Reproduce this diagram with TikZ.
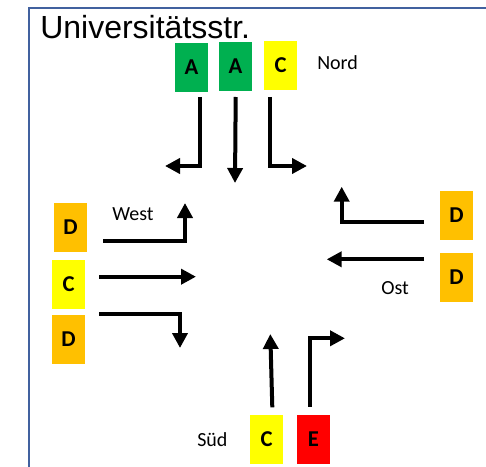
\documentclass[tikz,border=0pt]{standalone}
\usepackage{fontspec}
\setmainfont{Carlito}
\newfontfamily\arialfont{Liberation Sans}
\usetikzlibrary{arrows.meta}
\definecolor{lvgreen}{HTML}{00B050}
\definecolor{lvyellow}{HTML}{FFFF00}
\definecolor{lvorange}{HTML}{FFC000}
\definecolor{lvred}{HTML}{FF0000}
\definecolor{framecol}{HTML}{41619F}
\begin{document}
\begin{tikzpicture}[x=0.75pt,y=-0.75pt,
  lvbox/.style={minimum width=24.75pt,minimum height=36.75pt,inner sep=0pt,
    font=\fontsize{17}{17}\selectfont\bfseries},
  lbl/.style={font=\fontsize{15}{15}\selectfont,inner sep=0pt,anchor=base west},
  ar/.style={line width=3pt,line join=miter,-{Triangle[width=11.25pt,length=11.25pt]}}]
\useasboundingbox (0,0) rectangle (486,467);
\fill[white] (0,0) rectangle (486,467);
\draw[framecol,line width=1.5pt] (29,467) -- (29,8) -- (486,8);
\node[anchor=base west,inner sep=0pt,font=\arialfont\fontsize{24}{24}\selectfont] (title) at (40,39) {Universitätsstr.};
% boxes
\node[lvbox,fill=lvgreen] (nA1) at (191.5,67.5) {A};
\node[lvbox,fill=lvgreen] (nA2) at (235.5,66.5) {A};
\node[lvbox,fill=lvyellow] (nC) at (280.5,65.5) {C};
\node[lvbox,fill=lvorange] (wD1) at (70.5,227.5) {D};
\node[lvbox,fill=lvyellow] (wC) at (68.5,284.5) {C};
\node[lvbox,fill=lvorange] (wD2) at (68.5,339.5) {D};
\node[lvbox,fill=lvorange] (eD1) at (456.5,215.5) {D};
\node[lvbox,fill=lvorange] (eD2) at (456.5,277.5) {D};
\node[lvbox,fill=lvyellow] (sC) at (266.5,439.5) {C};
\node[lvbox,fill=lvred] (sE) at (313.5,439.5) {E};
% labels
\node[lbl] (nord) at (317,69.3) {Nord};
\node[lbl] (west) at (112,220) {West};
\node[lbl] (ost) at (381,294.3) {Ost};
\node[lbl] (sued) at (197,446.7) {Süd};
% arrow coordinates
\coordinate (n1s) at (200,97);   \coordinate (n1e) at (165,166);
\coordinate (n2s) at (235.7,97); \coordinate (n2e) at (235,183);
\coordinate (n3s) at (270,97);   \coordinate (n3e) at (307,166);
\coordinate (w1s) at (103,240.7); \coordinate (w1e) at (185,203);
\coordinate (w2s) at (99,276.7);  \coordinate (w2e) at (196,276.7);
\coordinate (w3s) at (99,314);    \coordinate (w3e) at (180,348);
\coordinate (e1s) at (424,221.7); \coordinate (e1e) at (341.7,186.7);
\coordinate (e2s) at (424,259.3); \coordinate (e2e) at (326.7,259.3);
\coordinate (s1s) at (272.3,407.3); \coordinate (s1e) at (270.3,334);
\coordinate (s2s) at (310,406.7); \coordinate (s2e) at (345,338.3);
% arrows
\draw[ar] (n1s) |- (n1e);
\draw[ar] (n2s) -- (n2e);
\draw[ar] (n3s) |- (n3e);
\draw[ar] (w1s) -| (w1e);
\draw[ar] (w2s) -- (w2e);
\draw[ar] (w3s) -| (w3e);
\draw[ar] (e1s) -| (e1e);
\draw[ar] (e2s) -- (e2e);
\draw[ar] (s1s) -- (s1e);
\draw[ar] (s2s) |- (s2e);
\end{tikzpicture}
\end{document}
